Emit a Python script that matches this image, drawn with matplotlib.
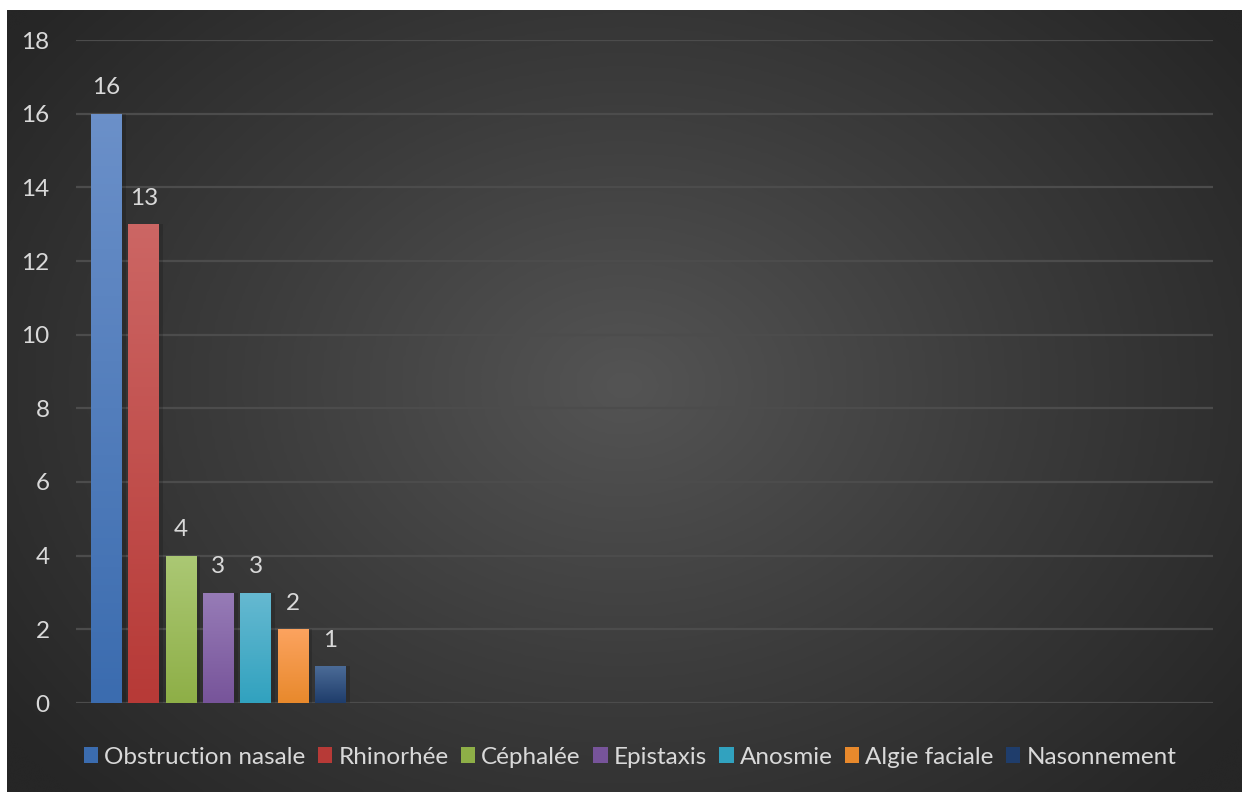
import matplotlib
matplotlib.use("Agg")
import matplotlib.pyplot as plt
import numpy as np
from matplotlib.colors import LinearSegmentedColormap
from matplotlib.patches import Patch

plt.rcParams["font.family"] = ["Lato", "DejaVu Sans"]

# data
labels = ["Obstruction nasale", "Rhinorhée", "Céphalée", "Epistaxis",
          "Anosmie", "Algie faciale", "Nasonnement"]
values = [16, 13, 4, 3, 3, 2, 1]
tops = ["#6b90c9", "#cc6664", "#abc874", "#977cb7", "#66b9d1", "#fca35f", "#4b6b97"]
bottoms = ["#3b6caf", "#b73a37", "#8eaf47", "#77549a", "#31a2bf", "#e8892c", "#1f3d6b"]

W, H = 1242, 792
fig = plt.figure(figsize=(W / 100, H / 100), dpi=100)
fig.patch.set_facecolor("white")

# dark panel with radial gradient
bg = fig.add_axes([7 / W, 0, (W - 7) / W, (H - 10) / H])
yy, xx = np.mgrid[0:1:300j, 0:1:400j]
r = np.sqrt(((xx - 0.5) / 0.62) ** 2 + ((yy - 0.48) / 0.75) ** 2)
bg_cmap = LinearSegmentedColormap.from_list("bg", ["#545454", "#3c3c3c", "#262626"])
bg.imshow(np.clip(r, 0, 1), cmap=bg_cmap, aspect="auto", extent=[0, 1, 0, 1],
          vmin=0, vmax=1, interpolation="bicubic")
bg.axis("off")

# plot area
x0, x1 = 76, 1213
y0, y1 = 703, 40
ax = fig.add_axes([x0 / W, (H - y0) / H, (x1 - x0) / W, (y0 - y1) / H])
ax.patch.set_alpha(0)

step = 37.3
pos = np.arange(len(values))
width = 31 / step
ax.yaxis.grid(True, color="#4c4c4c", linewidth=1.6)
ax.set_axisbelow(True)
ax.set_xticks([])
for s in ax.spines.values():
    s.set_visible(False)
ax.tick_params(axis="y", length=0, pad=19, labelsize=17.5, labelcolor="#d9d9d9")

grad = np.linspace(1, 0, 100).reshape(-1, 1)
bars = ax.bar(pos, values, width=width, color="none", zorder=3)
for b, v, t, c in zip(bars, values, tops, bottoms):
    # soft shadow
    ax.bar(b.get_x() + b.get_width() / 2 + 0.06, v, width=width * 1.1,
           color="black", alpha=0.15, zorder=2)
    cm = LinearSegmentedColormap.from_list("g", [c, t])
    im = ax.imshow(grad, cmap=cm, aspect="auto", zorder=3,
                   extent=[b.get_x(), b.get_x() + b.get_width(), 0, v])
    im.set_clip_path(b)
    ax.text(b.get_x() + b.get_width() / 2, v + 0.42, str(v), ha="center",
            va="bottom", fontsize=17.5, color="#d9d9d9", zorder=4)
ax.set_xlim(-(106.5 - x0) / step, -(106.5 - x0) / step + (x1 - x0) / step)
ax.set_ylim(0, 18)
ax.set_yticks(np.arange(0, 19, 2))

handles = [Patch(facecolor=c, edgecolor="none") for c in bottoms]
leg = fig.legend(handles, labels, loc="center", bbox_to_anchor=(630 / W, (H - 757) / H),
                 ncol=len(labels), frameon=False, fontsize=17.5, handlelength=0.6,
                 handleheight=0.6, handletextpad=0.25, columnspacing=0.5)
for t in leg.get_texts():
    t.set_color("#d9d9d9")

fig.savefig("out.png", dpi=100)
